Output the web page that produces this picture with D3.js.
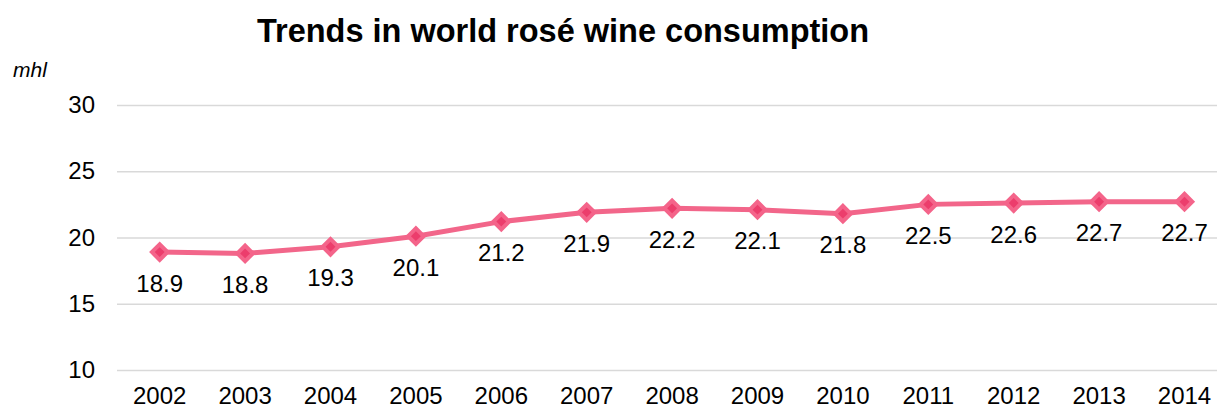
<!DOCTYPE html>
<html>
<head>
<meta charset="utf-8">
<script src="https://cdn.jsdelivr.net/npm/d3@7"></script>
<style>
    body { margin: 0; background: #fff; overflow: hidden; }
    svg { display: block; font-family: "Liberation Sans", Arial, sans-serif; }
</style>
</head>
<body>
<script>
const years = ['2002', '2003', '2004', '2005', '2006', '2007', '2008', '2009', '2010', '2011', '2012', '2013', '2014'];
const consumption = [18.9, 18.8, 19.3, 20.1, 21.2, 21.9, 22.2, 22.1, 21.8, 22.5, 22.6, 22.7, 22.7];
const yTicks = [10, 15, 20, 25, 30];

const svgWidth = 1217;
const svgHeight = 409;

// plot area (right side runs past the window, like the original crop)
const config = {
    margin: {T: 105, L: 117, B: 39},
    width: 13 * 85.4,
    height: 265
}

const data = years.map((y, i) => ({year: y, value: consumption[i]}));

const svg = d3.select('body')
    .append('svg')
    .attr('width', svgWidth)
    .attr('height', svgHeight);

const g = svg.append('g')
    .attr('transform', `translate(${config.margin.L}, ${config.margin.T})`);

const scaleX = d3.scaleBand()
    .domain(years)
    .range([0, config.width]);

const scaleY = d3.scaleLinear()
    .domain([10, 30])
    .range([config.height, 0]);

// grid + y labels
const yAxis = g.append('g')
    .call(d3.axisLeft(scaleY)
        .tickValues(yTicks)
        .tickSize(-config.width)
        .tickPadding(22)
    );
yAxis.select('.domain').remove();
yAxis.selectAll('.tick line').attr('stroke', '#d9d9d9').attr('stroke-width', 1.3);
yAxis.selectAll('.tick text')
    .attr('font-size', 24)
    .attr('fill', '#000')
    .attr('font-family', '"Liberation Sans", Arial, sans-serif');

// x labels (kept just inside the bottom edge)
const xAxis = g.append('g')
    .attr('transform', `translate(0, ${config.height})`)
    .call(d3.axisBottom(scaleX).tickSize(0).tickPadding(17));
xAxis.select('.domain').remove();
xAxis.selectAll('.tick text')
    .attr('font-size', 24)
    .attr('fill', '#000')
    .attr('font-family', '"Liberation Sans", Arial, sans-serif');

const get_x = d => scaleX(d.year) + scaleX.bandwidth() / 2;
const get_y = d => scaleY(d.value);

// line
g.append('path')
    .datum(data)
    .attr('fill', 'none')
    .attr('stroke', '#f2668a')
    .attr('stroke-width', 5)
    .attr('stroke-linejoin', 'round')
    .attr('d', d3.line().x(get_x).y(get_y));

// markers
const markers = g.append('g').selectAll('g')
    .data(data)
    .join('g')
    .attr('transform', d => `translate(${get_x(d)}, ${get_y(d)}) rotate(45)`);
markers.append('rect')
    .attr('x', -5.5).attr('y', -5.5)
    .attr('width', 11).attr('height', 11)
    .attr('fill', '#ec3d6c')
    .attr('stroke', '#f4648a')
    .attr('stroke-width', 4);

// value labels
g.append('g').selectAll('text')
    .data(data)
    .join('text')
    .attr('x', get_x)
    .attr('y', d => get_y(d) + 39.5)
    .attr('text-anchor', 'middle')
    .attr('font-size', 24)
    .text(d => d.value.toFixed(1));

// title
svg.append('text')
    .attr('x', 563)
    .attr('y', 42)
    .attr('text-anchor', 'middle')
    .attr('font-size', 32.5)
    .attr('font-weight', 'bold')
    .text('Trends in world rosé wine consumption');

// unit
svg.append('text')
    .attr('x', 13)
    .attr('y', 77)
    .attr('font-size', 21)
    .attr('font-style', 'italic')
    .text('mhl');
</script>
</body>
</html>
